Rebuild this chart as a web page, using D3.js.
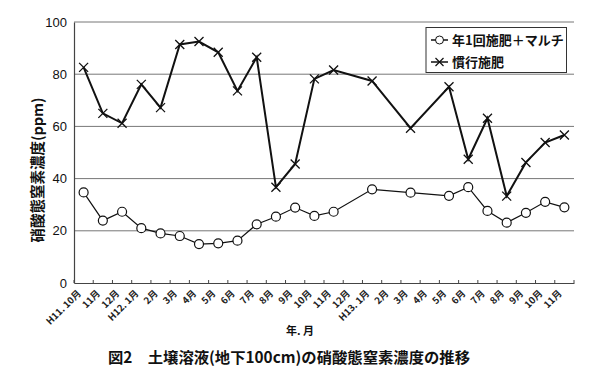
<!DOCTYPE html>
<html><head><meta charset="utf-8">
<script src="https://cdn.jsdelivr.net/npm/d3@7/dist/d3.min.js"></script>
<style>body{margin:0;background:#fff}</style>
</head><body>
<svg id="c" width="600" height="379"></svg>
<script>
const months = ["H11. 10月","11月","12月","H12. 1月","2月","3月","4月","5月","6月","7月","8月","9月","10月","11月","12月","H13. 1月","2月","3月","4月","5月","6月","7月","8月","9月","10月","11月"];
const mulchIdx = [0,1,2,3,4,5,6,7,8,9,10,11,12,13,15,17,19,20,21,22,23,24,25];
const mulchVals = [34.7,23.9,27.3,21.0,19.0,18.0,14.9,15.2,16.2,22.5,25.4,28.9,25.7,27.3,35.9,34.6,33.4,36.7,27.6,23.1,26.9,31.1,29.0];
const convIdx = [0,1,2,3,4,5,6,7,8,9,10,11,12,13,15,17,19,20,21,22,23,24,25];
const convVals = [82.6,65.0,61.2,76.1,67.2,91.4,92.5,88.4,73.6,86.5,36.7,45.6,78.2,81.6,77.4,59.3,75.2,47.4,63.1,33.3,46.2,53.8,56.7];
const yTicks = [0,20,40,60,80,100];
const seriesNames = ["年1回施肥＋マルチ","慣行施肥"];

const svg = d3.select("#c");
const L=74,R=574,T=22,B=283;
const x = d3.scaleBand().domain(d3.range(months.length)).range([L,R]);
const y = d3.scaleLinear().domain([0,100]).range([B,T]);
const cx = i => x(i)+x.bandwidth()/2;
const jp = "'Noto Sans CJK JP', sans-serif";

// grid
svg.append("g").selectAll("line").data(yTicks.filter(d=>d>0)).join("line")
  .attr("x1",L).attr("x2",R).attr("y1",d=>y(d)).attr("y2",d=>y(d))
  .attr("stroke","#777").attr("stroke-width",1);

// y axis
const ya = svg.append("g").attr("transform",`translate(${L},0)`)
  .call(d3.axisLeft(y).tickValues(yTicks).tickSize(0).tickPadding(7));
ya.select(".domain").attr("stroke","#444").attr("stroke-width",1.2);
ya.selectAll("text").attr("font-family","'Liberation Sans', Arial, sans-serif").attr("font-size",13).attr("fill","#111");

// x axis
const xa = svg.append("g").attr("transform",`translate(0,${B})`)
  .call(d3.axisBottom(x).tickSize(0).tickFormat(""));
xa.select(".domain").attr("stroke","#444").attr("stroke-width",1.2);
svg.append("g").selectAll("line").data(d3.range(months.length+1)).join("line")
  .attr("x1",i=>L+i*x.step()).attr("x2",i=>L+i*x.step()).attr("y1",B).attr("y2",B-3)
  .attr("stroke","#444");
svg.append("g").selectAll("text").data(months).join("text")
  .attr("transform",(d,i)=>`translate(${cx(i)-2},${B+11}) rotate(-45)`)
  .attr("text-anchor","end").attr("font-family",jp).attr("font-size",9.5).attr("font-weight","bold")
  .attr("fill","#222").text(d=>d);

// lines
const line = d3.line().x(d=>cx(d[0])).y(d=>y(d[1]));
const mData = mulchIdx.map((d,i)=>[d,mulchVals[i]]);
const cData = convIdx.map((d,i)=>[d,convVals[i]]);
svg.append("path").datum(mData).attr("d",line).attr("fill","none").attr("stroke","#111").attr("stroke-width",1.2);
svg.append("path").datum(cData).attr("d",line).attr("fill","none").attr("stroke","#111").attr("stroke-width",2);
svg.append("g").selectAll("circle").data(mData).join("circle")
  .attr("cx",d=>cx(d[0])).attr("cy",d=>y(d[1])).attr("r",4.5)
  .attr("fill","#fff").attr("stroke","#111").attr("stroke-width",1.2);
const s=4.5;
svg.append("g").selectAll("path").data(cData).join("path")
  .attr("d",d=>{const px=cx(d[0]),py=y(d[1]);return `M${px-s},${py-s}L${px+s},${py+s}M${px-s},${py+s}L${px+s},${py-s}`;})
  .attr("stroke","#111").attr("stroke-width",1.3);

// legend
const lg = svg.append("g");
lg.append("rect").attr("x",426).attr("y",27.5).attr("width",140.5).attr("height",45).attr("fill","#fff").attr("stroke","#333");
[0,1].forEach(k=>{
  const yy = 40+k*22;
  lg.append("line").attr("x1",431).attr("x2",448).attr("y1",yy).attr("y2",yy).attr("stroke","#111").attr("stroke-width",1.5);
  if(k===0) lg.append("circle").attr("cx",439.5).attr("cy",yy).attr("r",4).attr("fill","#fff").attr("stroke","#111");
  else lg.append("path").attr("d",`M${435.5},${yy-4}L${443.5},${yy+4}M${435.5},${yy+4}L${443.5},${yy-4}`).attr("stroke","#111").attr("stroke-width",1.2);
  lg.append("text").attr("x",452).attr("y",yy+5).attr("font-family",jp).attr("font-size",13).attr("font-weight","bold").attr("fill","#111").text(seriesNames[k]);
});

// axis titles
svg.append("text").attr("transform","translate(43,170) rotate(-90)").attr("text-anchor","middle")
  .attr("font-family",jp).attr("font-size",14.5).attr("font-weight","bold").attr("fill","#111").text("硝酸態窒素濃度(ppm)");
svg.append("text").attr("x",300).attr("y",335).attr("text-anchor","middle")
  .attr("font-family",jp).attr("font-size",11).attr("font-weight","bold").attr("fill","#111").text("年. 月");
svg.append("text").attr("x",108).attr("y",363).attr("textLength",362).attr("lengthAdjust","spacingAndGlyphs")
  .attr("font-family",jp).attr("font-size",15.3).attr("font-weight","bold").attr("fill","#111").text("図2　土壌溶液(地下100cm)の硝酸態窒素濃度の推移");
</script>
</body></html>
